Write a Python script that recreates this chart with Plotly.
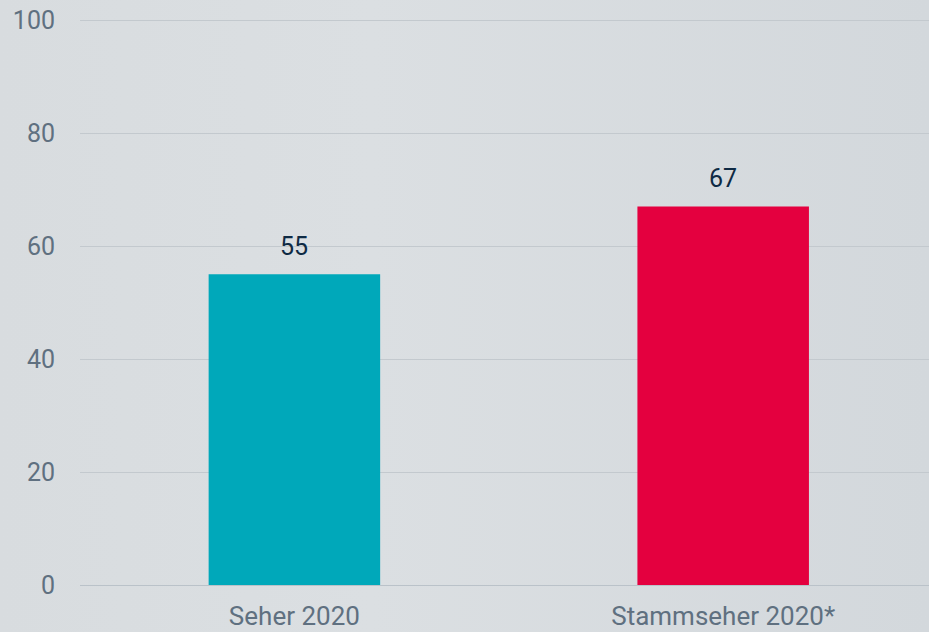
import base64
import plotly.graph_objects as go

categories = ["Seher 2020", "Stammseher 2020*"]
values = [55, 67]
bar_colors = ["#00a8ba", "#e4003f"]
y_ticks = [0, 20, 40, 60, 80, 100]

# subtle horizontal background gradient, as in the original
bg_svg = (
    '<svg xmlns="http://www.w3.org/2000/svg" width="929" height="632">'
    '<defs><linearGradient id="g" x1="0" y1="0" x2="1" y2="0">'
    '<stop offset="0" stop-color="#d8dcdf"/>'
    '<stop offset="0.4" stop-color="#dbdfe2"/>'
    '<stop offset="1" stop-color="#d3d8dc"/>'
    '</linearGradient></defs>'
    '<rect width="929" height="632" fill="url(#g)"/></svg>'
)
bg_src = "data:image/svg+xml;base64," + base64.b64encode(bg_svg.encode()).decode()

fig = go.Figure()

fig.add_trace(go.Bar(
    x=categories,
    y=values,
    marker=dict(color=bar_colors, line=dict(width=0)),
    width=0.4,
    hoverinfo="skip",
))

# value labels above the bars
for cat, val in zip(categories, values):
    fig.add_annotation(
        x=cat, y=val, text=str(val),
        showarrow=False, yanchor="bottom", yshift=11,
        font=dict(family="Roboto", size=25, color="#0e2a44"),
    )

fig.add_layout_image(
    source=bg_src, xref="paper", yref="paper",
    x=-80 / 849, y=1 + 19 / 566, sizex=929 / 849, sizey=632 / 566,
    xanchor="left", yanchor="top", sizing="stretch", layer="below",
)

fig.update_layout(
    width=929,
    height=632,
    paper_bgcolor="#d8dcdf",
    plot_bgcolor="rgba(0,0,0,0)",
    margin=dict(l=80, r=0, t=19, b=47),
    showlegend=False,
    font=dict(family="Roboto", size=25, color="#5f7080"),
    xaxis=dict(
        range=[-0.5, 1.48],
        showgrid=False,
        zeroline=False,
        showline=False,
        ticks="",
        automargin=False,
        ticklabelstandoff=13,
        tickfont=dict(size=26, color="#5f7080"),
    ),
    yaxis=dict(
        range=[0, 100.18],
        tickvals=y_ticks,
        showgrid=True,
        gridcolor="#c3c9ce",
        gridwidth=1,
        zeroline=True,
        zerolinecolor="#bac2c9",
        zerolinewidth=1,
        showline=False,
        ticks="",
        automargin=False,
        ticklabelstandoff=24,
        tickfont=dict(size=25, color="#5f7080"),
    ),
)

fig.write_html(
    "out.html",
    config={"displayModeBar": False},
    post_script="document.body.style.margin='0';",
)
